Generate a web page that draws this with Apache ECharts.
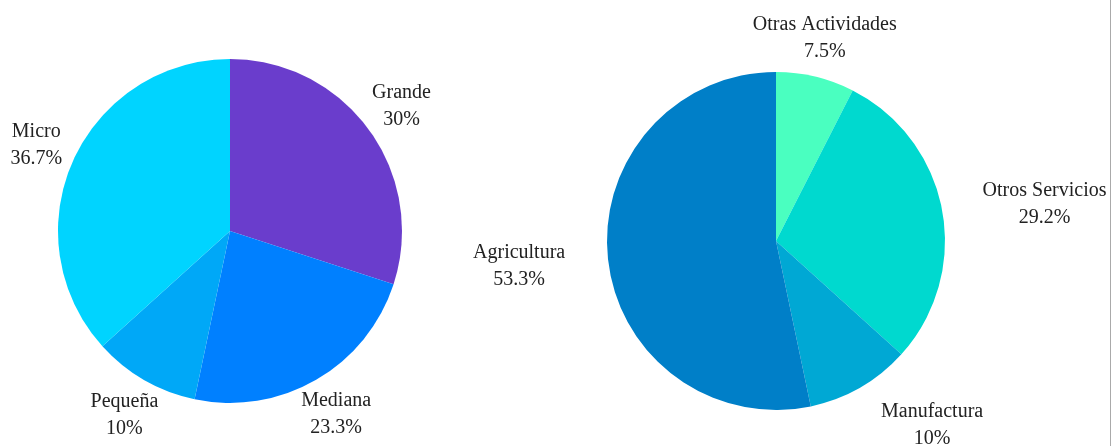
<!DOCTYPE html>
<html>
<head>
<meta charset="utf-8">
<script src="https://cdn.jsdelivr.net/npm/echarts@6/dist/echarts.min.js"></script>
<style>
html,body{margin:0;padding:0;background:#fff;}
#chart{width:1112px;height:446px;}
</style>
</head>
<body>
<div id="chart"></div>
<script>
// tamaño de empresa
let sizeNames = ["Grande", "Mediana", "Pequeña", "Micro"];
let sizeValues = [30, 23.3, 10, 36.7];
let sizeColors = ["#6a3dcc", "#0080ff", "#00a8f7", "#00d4ff"];

// sector
let sectorNames = ["Otras Actividades", "Otros Servicios", "Manufactura", "Agricultura"];
let sectorValues = [7.5, 29.2, 10, 53.3];
let sectorColors = ["#4affc0", "#00d9cf", "#00a8d4", "#007fc8"];

// ajustes de etiqueta (px) donde el original no es radial
let labelShift = {
	"Otros Servicios": [63, 1],
	"Manufactura": [52, 3],
	"Agricultura": [-49, 4]
};
let labelDist = 40;

let myChart = echarts.init(document.getElementById("chart"));

function buildData(names, values, colors){
	return names.map((n, i) => ({
		name: n,
		value: values[i],
		itemStyle: { color: colors[i] }
	}));
}

function pieSeries(names, values, colors, center, radius){
	return {
		type: 'pie',
		center: center,
		radius: radius,
		startAngle: 90,
		clockwise: true,
		avoidLabelOverlap: false,
		silent: true,
		label: {
			show: true,
			position: 'outside',
			formatter: '{b}\n{c}%',
			fontFamily: 'Liberation Serif',
			fontSize: 20,
			lineHeight: 27,
			color: '#222'
		},
		labelLine: {
			show: true,
			length: 10,
			length2: 0,
			lineStyle: { opacity: 0 }
		},
		labelLayout: function(params){
			let p = params.labelLinePoints;
			if(!p) return {};
			let dx = p[1][0] - p[0][0], dy = p[1][1] - p[0][1];
			let len = Math.sqrt(dx*dx + dy*dy) || 1;
			dx /= len; dy /= len;
			let name = names[params.dataIndex];
			let s = labelShift[name] || [0, 0];
			return {
				x: p[0][0] + dx*labelDist + s[0],
				y: p[0][1] + dy*labelDist + s[1],
				align: 'center',
				verticalAlign: 'middle'
			};
		},
		data: buildData(names, values, colors)
	};
}

let opt = {
	animation: false,
	backgroundColor: '#fff',
	graphic: [{
		type: 'line',
		shape: { x1: 1110.5, y1: 0, x2: 1110.5, y2: 446 },
		style: { stroke: '#aaa', lineWidth: 1 }
	}],
	series: [
		pieSeries(sizeNames, sizeValues, sizeColors, [230, 231], 172),
		pieSeries(sectorNames, sectorValues, sectorColors, [776, 241], 169)
	]
};
myChart.setOption(opt);
</script>
</body>
</html>
